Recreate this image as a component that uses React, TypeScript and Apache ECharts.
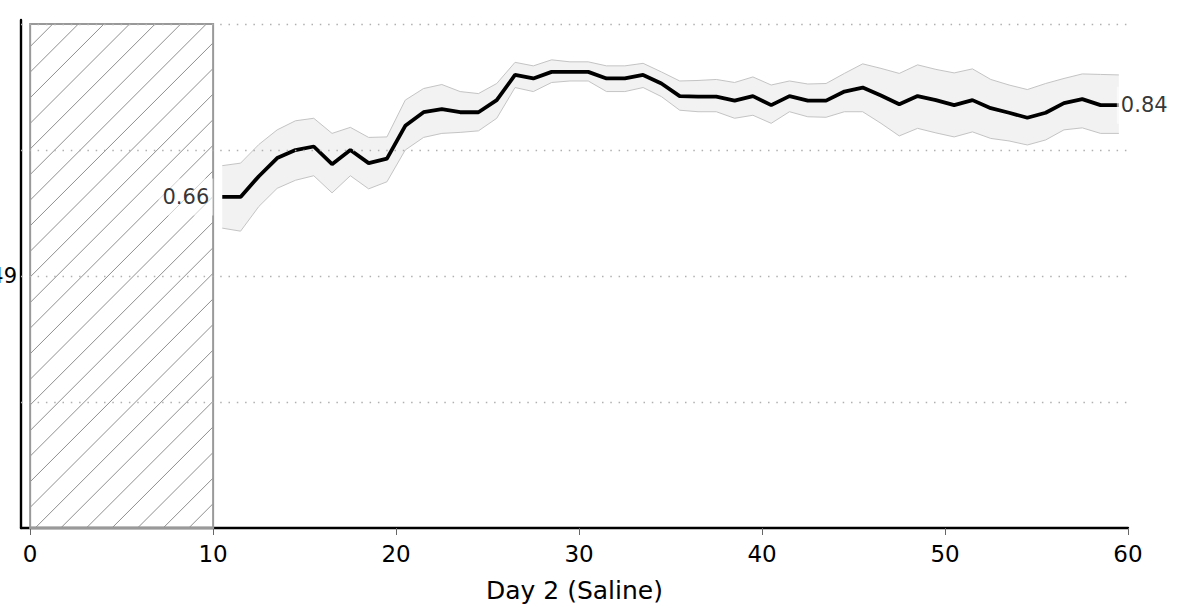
import React, { useEffect, useRef } from "react";
import * as echarts from "echarts";

// ---- data ----
const xValues = [
  10.5, 11.5, 12.5, 13.5, 14.5, 15.5, 16.5, 17.5, 18.5, 19.5,
  20.5, 21.5, 22.5, 23.5, 24.5, 25.5, 26.5, 27.5, 28.5, 29.5,
  30.5, 31.5, 32.5, 33.5, 34.5, 35.5, 36.5, 37.5, 38.5, 39.5,
  40.5, 41.5, 42.5, 43.5, 44.5, 45.5, 46.5, 47.5, 48.5, 49.5,
  50.5, 51.5, 52.5, 53.5, 54.5, 55.5, 56.5, 57.5, 58.5, 59.5,
];
const meanValues = [
  0.657, 0.657, 0.698, 0.734, 0.75, 0.757, 0.722, 0.75, 0.724, 0.733,
  0.798, 0.825, 0.831, 0.825, 0.825, 0.849, 0.899, 0.892, 0.905, 0.905,
  0.905, 0.892, 0.892, 0.899, 0.882, 0.857, 0.856, 0.856, 0.848, 0.857,
  0.839, 0.857, 0.848, 0.848, 0.866, 0.874, 0.858, 0.841, 0.857, 0.849,
  0.839, 0.849, 0.833, 0.824, 0.814, 0.824, 0.843, 0.851, 0.839, 0.839,
];
const upperValues = [
  0.719, 0.724, 0.761, 0.79, 0.808, 0.813, 0.783, 0.795, 0.775, 0.776,
  0.849, 0.872, 0.88, 0.866, 0.862, 0.882, 0.924, 0.917, 0.929, 0.925,
  0.925, 0.917, 0.917, 0.922, 0.905, 0.887, 0.888, 0.89, 0.884, 0.895,
  0.879, 0.887, 0.881, 0.882, 0.902, 0.921, 0.912, 0.902, 0.919, 0.91,
  0.903, 0.911, 0.89, 0.879, 0.87, 0.882, 0.892, 0.901, 0.9, 0.899,
];
const lowerValues = [
  0.595, 0.589, 0.638, 0.674, 0.69, 0.699, 0.665, 0.699, 0.673, 0.687,
  0.75, 0.775, 0.783, 0.785, 0.788, 0.813, 0.874, 0.866, 0.884, 0.887,
  0.887, 0.866, 0.866, 0.874, 0.856, 0.829, 0.826, 0.826, 0.813, 0.819,
  0.803, 0.826, 0.816, 0.815, 0.826, 0.826, 0.803, 0.778, 0.793, 0.784,
  0.776, 0.786, 0.773, 0.768, 0.76, 0.77, 0.79, 0.794, 0.783, 0.783,
];
const xTicks = [0, 10, 20, 30, 40, 50, 60];
const yGridValues = [0.25, 0.5, 0.75, 1.0];
const yTickValues = [0.5];
const yTickTexts = ["0.49"];
const excludedWindow = [0, 10, 0, 1]; // x0, x1, y0, y1
const xAxisName = "Day 2 (Saline)";

const FONT = "DejaVu Sans";

export default function App() {
  const ref = useRef<HTMLDivElement>(null);

  useEffect(() => {
    if (!ref.current) return;
    const chart = echarts.init(ref.current, undefined, { renderer: "svg" });

    const lastIdx = xValues.length - 1;

    const option: any = {
      animation: false,
      textStyle: { fontFamily: FONT },
      grid: {
        left: 21,
        right: 75,
        top: 20,
        bottom: 79,
        containLabel: false,
        outerBoundsMode: "none",
      },
      xAxis: {
        type: "value",
        min: -0.5,
        max: 60,
        name: xAxisName,
        nameLocation: "middle",
        nameGap: 50,
        nameTextStyle: { fontSize: 25, color: "#000", fontFamily: FONT },
        axisLine: { show: true, onZero: false, lineStyle: { color: "#000", width: 2.4 } },
        axisTick: {
          show: true,
          customValues: xTicks,
          length: 7,
          lineStyle: { color: "#666", width: 1 },
        },
        axisLabel: {
          customValues: xTicks,
          fontSize: 23,
          color: "#000",
          margin: 14,
          fontFamily: FONT,
        },
        splitLine: { show: false },
      },
      yAxis: {
        type: "value",
        min: 0,
        max: 1.008,
        axisLine: { show: true, onZero: false, lineStyle: { color: "#000", width: 2.4 } },
        axisTick: { show: false },
        axisLabel: {
          customValues: yTickValues,
          fontSize: 21,
          color: "#000",
          margin: 4,
          fontFamily: FONT,
          formatter: (v: number) => {
            const i = yTickValues.findIndex((t) => Math.abs(t - v) < 1e-9);
            return i >= 0 ? yTickTexts[i] : "";
          },
        },
        splitLine: { show: false },
      },
      series: [
        {
          name: "window",
          type: "custom",
          z: 1,
          silent: true,
          encode: { x: [0, 1], y: [2, 3] },
          data: [excludedWindow],
          renderItem: (params: any, api: any) => {
            const p0 = api.coord([api.value(0), api.value(3)]);
            const p1 = api.coord([api.value(1), api.value(2)]);
            const L = p0[0], T = p0[1], R = p1[0], B = p1[1];
            const children: any[] = [];
            const spacing = 25.6;
            const c0 = B + L + 5;
            for (let k = -40; k <= 40; k++) {
              const c = c0 + k * spacing;
              const xmin = Math.max(L, c - B);
              const xmax = Math.min(R, c - T);
              if (xmax - xmin > 0.5) {
                children.push({
                  type: "line",
                  shape: { x1: xmin, y1: c - xmin, x2: xmax, y2: c - xmax },
                  style: { stroke: "#8f8f8f", lineWidth: 1, fill: null },
                });
              }
            }
            children.push({
              type: "rect",
              shape: { x: L, y: T, width: R - L, height: B - T },
              style: { fill: "none", stroke: "#999", lineWidth: 2 },
            });
            return { type: "group", children };
          },
        },
        {
          name: "band",
          type: "custom",
          z: 2,
          silent: true,
          encode: { x: 0, y: [1, 2] },
          data: xValues.map((x, i) => [x, lowerValues[i], upperValues[i]]),
          renderItem: (params: any, api: any) => {
            if (params.dataIndexInside !== 0) return { type: "group", children: [] };
            const n = params.dataInsideLength;
            const up: number[][] = [];
            const lo: number[][] = [];
            for (let i = 0; i < n; i++) {
              const x = api.value(0, i);
              lo.push(api.coord([x, api.value(1, i)]));
              up.push(api.coord([x, api.value(2, i)]));
            }
            const poly = up.concat(lo.slice().reverse());
            return {
              type: "group",
              children: [
                {
                  type: "polygon",
                  shape: { points: poly },
                  style: { fill: "#f2f2f2", stroke: "none" },
                },
                {
                  type: "polyline",
                  shape: { points: up },
                  style: { fill: "none", stroke: "#c4c4c4", lineWidth: 1 },
                },
                {
                  type: "polyline",
                  shape: { points: lo },
                  style: { fill: "none", stroke: "#c4c4c4", lineWidth: 1 },
                },
              ],
            };
          },
        },
        {
          name: "grid",
          type: "line",
          z: 3,
          silent: true,
          symbol: "none",
          data: [],
          markLine: {
            silent: true,
            symbol: "none",
            label: { show: false },
            lineStyle: { color: "#b0b0b0", width: 1.3, type: [1.5, 6.8] },
            data: yGridValues.map((v) => ({ yAxis: v })),
          },
        },
        {
          name: "mean",
          type: "line",
          z: 4,
          symbol: "none",
          silent: true,
          lineStyle: { color: "#000", width: 3.8 },
          data: xValues.map((x, i) => [x, meanValues[i]]),
        },
        {
          name: "labels",
          type: "scatter",
          z: 5,
          symbolSize: 0,
          silent: true,
          data: [
            {
              value: [xValues[0], meanValues[0]],
              label: { position: "left", distance: 9 },
            },
            {
              value: [xValues[lastIdx], meanValues[lastIdx]],
              label: { position: "right", distance: 0, offset: [-2, 0] },
            },
          ],
          label: {
            show: true,
            formatter: (p: any) => Number(p.value[1]).toFixed(2),
            fontSize: 21,
            color: "#000",
            fontFamily: FONT,
            backgroundColor: "rgba(255,255,255,0.72)",
            padding: [8, 4],
          },
        },
      ],
    };

    chart.setOption(option);
    return () => chart.dispose();
  }, []);

  return (
    <div
      ref={ref}
      style={{ position: "absolute", left: 0, top: 0, width: 1203, height: 607 }}
    />
  );
}
